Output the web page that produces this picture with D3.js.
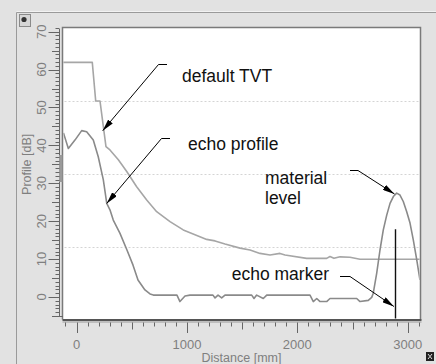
<!DOCTYPE html>
<html><head><meta charset="utf-8">
<script src="https://cdn.jsdelivr.net/npm/d3@7"></script>
<style>html,body{margin:0;padding:0;background:#e2e2e2;}svg{display:block;}</style>
</head><body>
<svg id="c" width="436" height="364"></svg>
<script>
// ---- data (distance in mm, profile in dB) ----
const tvtDist = [-122,143,174,213,267,303,379,455,545,636,726,847,967,1118,1179,1255,1345,1481,1572,1662,1753,1843,1889,2085,2266,2296,2332,2387,2477,2568,3111];
const tvtDb   = [61.9,61.9,51.7,51.7,39.7,38.8,36.2,33.1,29.1,25.6,22.5,19.9,17.7,15.9,15.2,14.8,14.0,12.9,12.4,11.5,11.1,11.5,11.1,10.2,10.2,10.7,10.2,10.6,10.5,9.95,9.95];
const echoDist = [-118,-74,-14,47,92,152,197,243,274,303,333,394,457,512,557,620,666,696,910,937,983,1028,1236,1255,1282,1315,1345,1587,1608,1632,1692,1723,2115,2145,2176,2206,2266,2296,2538,2568,2643,2674,2688,2719,2749,2779,2810,2840,2870,2900,2930,2960,2991,3021,3051,3082,3111];
const echoDb   = [43.3,39.2,41.4,43.9,43.6,41.4,37.0,30.9,24.7,23.0,20.3,16.8,12.4,8.4,4.5,1.85,0.8,0.5,0.5,-1.2,0.25,0.5,0.5,-0.25,0.5,-0.25,0.5,0.5,-0.4,0.5,-0.4,0.5,0.5,-1.2,-0.4,-1.2,-1.2,-0.4,-0.4,-1.2,-0.9,-0.1,1.0,6.25,12.4,17.7,21.6,24.7,26.5,27.4,26.9,25.2,22.5,19.5,15.0,9.8,4.5];
const markerDist = 2885;
const markerTopDb = 17.9;
const xTickLabels = ["0","1000","2000","3000"];
const xTickValues = [0,1000,2000,3000];
const yTickLabels = ["0","10","20","30","40","50","60","70"];
const yTickValues = [0,10,20,30,40,50,60,70];
const xTitle = "Distance [mm]";
const yTitle = "Profile [dB]";
const notes = [
  {lines:["default TVT"], tx:182, ty:82, anchor:"start", stub:[167,64.5,158.5,64.5], tip:[174,48.5]},
  {lines:["echo profile"], tx:188, ty:150, anchor:"start", stub:[170,138.5,161.5,138.5], tip:[274,24.7]},
  {lines:["material","level"], tx:265, ty:183.5, anchor:"start", stub:[350,170.5,358,170.5], tip:[2880,27.2]},
  {lines:["echo marker"], tx:329, ty:280, anchor:"end", stub:[340,276.5,350,276.5], tip:[2875,-2.5]}
];

// ---- layout ----
const svg = d3.select("#c");
const font = "'Liberation Sans', Arial, sans-serif";
const plot = {l:62.5, r:420.5, t:27.5, b:319.5};
const x = d3.scaleLinear().domain([0,3000]).range([76.5,407.7]);
const y = d3.scaleLinear().domain([0,70]).range([297,31.7]);

// frame
svg.append("rect").attr("x",0).attr("y",0).attr("width",436).attr("height",364).attr("fill","#e2e2e2");
svg.append("line").attr("x1",16.5).attr("x2",436).attr("y1",12.5).attr("y2",12.5).attr("stroke","#9a9a9a");
svg.append("line").attr("x1",16.5).attr("x2",436).attr("y1",11.5).attr("y2",11.5).attr("stroke","#f2f2f2");
svg.append("line").attr("x1",16.5).attr("x2",16.5).attr("y1",12.5).attr("y2",364).attr("stroke","#9a9a9a");
// top-left icon
svg.append("rect").attr("x",19.5).attr("y",14.5).attr("width",11).attr("height",12).attr("fill","#d6d6d6").attr("stroke","#8a8a8a");
svg.append("circle").attr("cx",24).attr("cy",19.5).attr("r",2.6).attr("fill","#333");
// bottom-right icon
const ic = svg.append("g").attr("transform","translate(426,352)");
ic.append("rect").attr("x",0).attr("y",0).attr("width",8).attr("height",9).attr("fill","#222");
ic.append("path").attr("d","M2,2 L4,4.5 L6,2 M2,7 L4,4.5 L6,7").attr("stroke","#ddd").attr("stroke-width",1).attr("fill","none");

// plot area
svg.append("rect").attr("x",plot.l).attr("y",plot.t).attr("width",plot.r-plot.l).attr("height",plot.b-plot.t)
  .attr("fill","#fff");
// grid (4 equal bands)
const gridYs = d3.range(1,4).map(i => plot.t + i*(plot.b-plot.t)/4);
svg.selectAll(".grid").data(gridYs).join("line").attr("class","grid")
  .attr("x1",plot.l+2).attr("x2",plot.r-2).attr("y1",d=>Math.round(d)+0.5).attr("y2",d=>Math.round(d)+0.5)
  .attr("stroke","#d4d4d4").attr("stroke-dasharray","2,2");

svg.append("clipPath").attr("id","clip").append("rect")
  .attr("x",plot.l+1).attr("y",plot.t+1).attr("width",plot.r-plot.l-2).attr("height",plot.b-plot.t-2);
const g = svg.append("g").attr("clip-path","url(#clip)");
const line = d3.line().x(d=>x(d[0])).y(d=>y(d[1]));
g.append("path").datum(tvtDist.map((d,i)=>[d,tvtDb[i]])).attr("d",line)
  .attr("fill","none").attr("stroke","#a6a6a6").attr("stroke-width",1.6).attr("stroke-linejoin","round");
g.append("path").datum(echoDist.map((d,i)=>[d,echoDb[i]])).attr("d",line)
  .attr("fill","none").attr("stroke","#8a8a8a").attr("stroke-width",1.6).attr("stroke-linejoin","round");
// echo marker
g.append("line").attr("x1",Math.round(x(markerDist))+0.5).attr("x2",Math.round(x(markerDist))+0.5)
  .attr("y1",y(markerTopDb)).attr("y2",plot.b).attr("stroke","#111").attr("stroke-width",1.4);

// plot border
svg.append("path").attr("d",`M${plot.l},${plot.b} V${plot.t} H${plot.r} V${plot.b}`).attr("fill","none").attr("stroke","#7a7a7a").attr("stroke-width",1.5);
svg.append("line").attr("x1",plot.l).attr("x2",plot.r+1).attr("y1",plot.b+0.5).attr("y2",plot.b+0.5).attr("stroke","#555").attr("stroke-width",2);
svg.append("line").attr("x1",plot.l).attr("x2",plot.r+1).attr("y1",plot.b+2.5).attr("y2",plot.b+2.5).attr("stroke","#999").attr("stroke-width",1);

// y ruler
svg.append("line").attr("x1",59.5).attr("x2",59.5).attr("y1",29).attr("y2",316.5).attr("stroke","#666");
svg.append("rect").attr("x",59).attr("y",155).attr("width",3.5).attr("height",27).attr("fill","#9a9a9a");
const yMinor = d3.range(-5,72,1);
svg.selectAll(".ytk").data(yMinor).join("line").attr("class","ytk")
  .attr("x1",d=> d%10===0 ? 48.5 : (d%5===0 ? 52 : 55.5)).attr("x2",59.5)
  .attr("y1",d=>Math.round(y(d))+0.5).attr("y2",d=>Math.round(y(d))+0.5).attr("stroke","#666");
svg.append("line").attr("x1",55).attr("x2",63).attr("y1",316.5).attr("y2",316.5).attr("stroke","#666");
svg.selectAll(".ylab").data(yTickValues).join("text").attr("class","ylab")
  .attr("transform",(d)=>`translate(46,${y(d)}) rotate(-90)`).attr("text-anchor","middle")
  .attr("font-family",font).attr("font-size",13).attr("fill","#7f7f7f").text((d,i)=>yTickLabels[i]);
svg.append("text").attr("transform",`translate(31,${(y(0)+y(70))/2}) rotate(-90)`).attr("text-anchor","middle")
  .attr("font-family",font).attr("font-size",12.5).attr("fill","#7f7f7f").text(yTitle);

// x ruler
const xMinor = d3.range(-100,3101,100);
svg.selectAll(".xtk").data(xMinor).join("line").attr("class","xtk")
  .attr("x1",d=>Math.round(x(d))+0.5).attr("x2",d=>Math.round(x(d))+0.5)
  .attr("y1",322.5).attr("y2",d=> d%1000===0 ? 333 : (d%500===0 ? 329.5 : 326.5)).attr("stroke","#666");
svg.selectAll(".xlab").data(xTickValues).join("text").attr("class","xlab")
  .attr("x",d=>x(d)).attr("y",348.5).attr("text-anchor","middle")
  .attr("font-family",font).attr("font-size",13).attr("fill","#7f7f7f").text((d,i)=>xTickLabels[i]);
svg.append("text").attr("x",241.5).attr("y",362).attr("text-anchor","middle")
  .attr("font-family",font).attr("font-size",12.5).attr("fill","#7f7f7f").text(xTitle);

// annotations
svg.append("defs").append("marker").attr("id","arr").attr("viewBox","0 0 12 6").attr("refX",12).attr("refY",3)
  .attr("markerWidth",12).attr("markerHeight",6).attr("markerUnits","userSpaceOnUse").attr("orient","auto")
  .append("path").attr("d","M0,0 L12,3 L0,6 Z").attr("fill","#000");
notes.forEach((n,k)=>{
  const tip = (k===0) ? [x(n.tip[0]) - 0, y(n.tip[1])] : [x(n.tip[0]), y(n.tip[1])];
  if(k===0){ tip[0]=102.7; tip[1]=130.7; }
  svg.append("line").attr("x1",n.stub[0]).attr("y1",n.stub[1]).attr("x2",n.stub[2]).attr("y2",n.stub[3]).attr("stroke","#000").attr("stroke-width",1);
  svg.append("line").attr("x1",n.stub[2]).attr("y1",n.stub[3]).attr("x2",tip[0]).attr("y2",tip[1])
    .attr("stroke","#000").attr("stroke-width",1).attr("marker-end","url(#arr)");
  n.lines.forEach((t,i)=>{
    svg.append("text").attr("x",n.tx).attr("y",n.ty+i*20).attr("text-anchor",n.anchor)
      .attr("font-family",font).attr("font-size",17.5).attr("fill","#111").text(t);
  });
});
</script>
</body></html>
